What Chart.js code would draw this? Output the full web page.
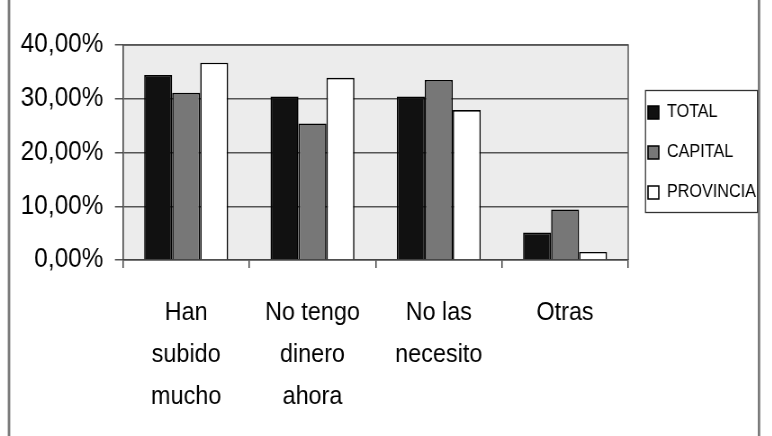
<!DOCTYPE html>
<html>
<head>
<meta charset="utf-8">
<script src="https://cdn.jsdelivr.net/npm/chart.js@4.4.1/dist/chart.umd.min.js"></script>
<style>
  html, body { margin: 0; padding: 0; background: #fff; overflow: hidden; }
  /* el original tiene el texto estrechado: se dibuja más ancho y se comprime en X */
  #wrap { width: 858px; height: 436px; transform: scaleX(0.9); transform-origin: 0 0; }
</style>
</head>
<body>
<div id="wrap"><canvas id="chart" width="858" height="436"></canvas></div>
<script>
const categories = [['Han', 'subido', 'mucho'], ['No tengo', 'dinero', 'ahora'], ['No las', 'necesito'], ['Otras']];
const totalValues = [34.4, 30.4, 30.4, 5.1];
const capitalValues = [31.1, 25.4, 33.5, 9.4];
const provinciaValues = [36.7, 33.9, 27.9, 1.5];
const yTicks = [0, 10, 20, 30, 40];

const FONT = '"Liberation Sans", Arial, sans-serif';
const SX = 0.9; // compresión horizontal

const decor = {
    id: 'decor',
    beforeLayout(chart) {
        const lg = chart.legend;
        if (lg && !lg._patched) {
            const fit = lg.fit;
            lg.fit = function () { fit.call(this); this.width = 160; };
            lg._patched = true;
        }
    },
    beforeDraw(chart) {
        const { ctx, chartArea: a } = chart;
        ctx.save();
        ctx.fillStyle = '#ececec';
        ctx.fillRect(a.left, a.top, a.right - a.left, a.bottom - a.top);
        ctx.restore();
    },
    afterDraw(chart) {
        const { ctx, chartArea: a } = chart;
        ctx.save();
        ctx.strokeStyle = '#555';
        ctx.lineWidth = 1.5;
        ctx.beginPath();
        ctx.moveTo(a.left, a.top);
        ctx.lineTo(a.right, a.top);
        ctx.lineTo(a.right, a.bottom);
        ctx.stroke();

        ctx.strokeStyle = '#7a7a7a';
        ctx.lineWidth = 2.8;
        ctx.beginPath();
        ctx.moveTo(9 / SX, 0); ctx.lineTo(9 / SX, 436);
        ctx.moveTo(759 / SX, 0); ctx.lineTo(759 / SX, 436);
        ctx.stroke();

        // marco de la leyenda
        const boxes = chart.legend.legendHitBoxes;
        if (boxes && boxes.length) {
            const c1 = boxes[0].top + boxes[0].height / 2;
            const c3 = boxes[boxes.length - 1].top + boxes[boxes.length - 1].height / 2;
            ctx.strokeStyle = '#333';
            ctx.lineWidth = 1.3;
            ctx.strokeRect(645.5 / SX, c1 - 22, 112 / SX, c3 - c1 + 42);
        }
        ctx.restore();
    }
};

new Chart(document.getElementById('chart'), {
    type: 'bar',
    data: {
        labels: categories,
        datasets: [
            { label: 'TOTAL', data: totalValues, backgroundColor: '#111', borderColor: '#000', borderWidth: 1.6 },
            { label: 'CAPITAL', data: capitalValues, backgroundColor: '#777', borderColor: '#000', borderWidth: 1.6 },
            { label: 'PROVINCIA', data: provinciaValues, backgroundColor: '#fff', borderColor: '#000', borderWidth: 1.6 }
        ]
    },
    options: {
        responsive: false,
        animation: false,
        layout: { padding: { left: 0, right: 0, top: 45, bottom: 0 } },
        datasets: { bar: { categoryPercentage: 0.665, barPercentage: 1 } },
        plugins: {
            legend: {
                position: 'right',
                fullSize: false,
                labels: {
                    color: '#000',
                    font: { family: FONT, size: 18 },
                    boxWidth: 12,
                    boxHeight: 13,
                    padding: 22
                }
            },
            tooltip: { enabled: false }
        },
        scales: {
            x: {
                afterFit: axis => { axis.height = 176; },
                grid: { offset: true, drawOnChartArea: false, drawTicks: true, tickLength: 8, color: '#444', lineWidth: 1.5 },
                border: { color: '#444', width: 1.5 },
                ticks: { color: '#000', font: { family: FONT, size: 26, lineHeight: 1.62 }, padding: 24, maxRotation: 0 }
            },
            y: {
                min: 0,
                max: 40,
                afterFit: axis => { axis.width = 123 / SX; },
                afterBuildTicks: axis => { axis.ticks = yTicks.map(v => ({ value: v })); },
                grid: { color: '#555', lineWidth: 1.5, tickLength: 9 },
                border: { color: '#444', width: 1.6 },
                ticks: {
                    color: '#000',
                    font: { family: FONT, size: 27 },
                    padding: 13,
                    callback: v => v.toFixed(2).replace('.', ',') + '%'
                }
            }
        }
    },
    plugins: [decor]
});
</script>
</body>
</html>
